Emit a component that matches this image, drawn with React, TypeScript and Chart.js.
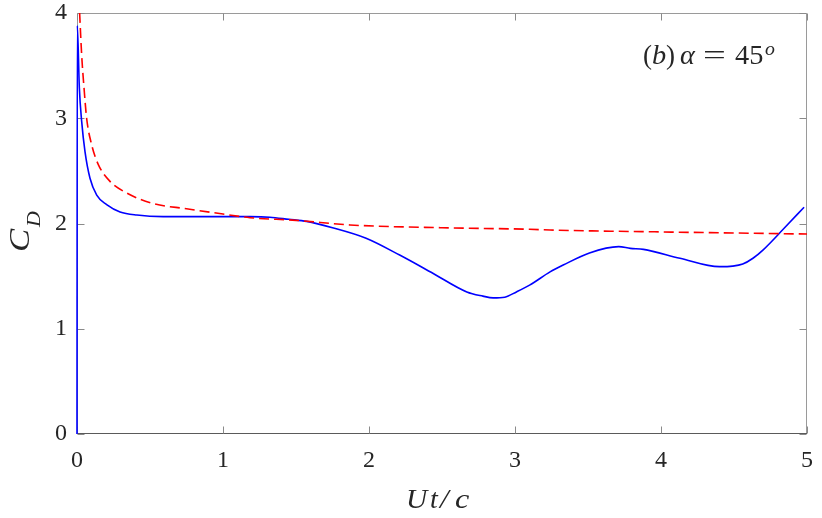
import { useEffect, useRef } from "react";
import { Chart, registerables } from "chart.js";

Chart.register(...registerables);

const X_TICKS = [0, 1, 2, 3, 4, 5];
const Y_TICKS = [0, 1, 2, 3, 4];

// simulation (solid blue)
const SIM_T = [
  0, 0.002, 0.016, 0.032, 0.055, 0.089, 0.135, 0.203, 0.295, 0.41, 0.59, 0.8, 1.0, 1.185, 1.32, 1.45,
  1.573, 1.75, 1.98, 2.21, 2.44, 2.67, 2.78, 2.85, 2.93, 3.01, 3.1, 3.24, 3.33, 3.51, 3.71, 3.79, 3.88,
  4.13, 4.4, 4.49, 4.56, 4.63, 4.7, 4.84, 4.98,
];
const SIM_CD = [
  0, 3.88, 3.29, 2.97, 2.68, 2.43, 2.27, 2.18, 2.11, 2.08, 2.065, 2.065, 2.065, 2.065, 2.06, 2.04,
  2.02, 1.96, 1.86, 1.7, 1.525, 1.35, 1.31, 1.293, 1.3, 1.35, 1.414, 1.54, 1.605, 1.72, 1.78, 1.764,
  1.754, 1.67, 1.59, 1.595, 1.615, 1.67, 1.75, 1.95, 2.155,
];

// model (dashed red)
const MODEL_T = [0.018, 0.032, 0.048, 0.066, 0.1, 0.146, 0.226, 0.34, 0.52, 0.75, 1.0, 1.185, 1.5, 1.87, 2.5, 3.1, 3.24, 4.0, 4.5, 5.0];
const MODEL_CD = [4.0, 3.6, 3.29, 3.0, 2.75, 2.56, 2.4, 2.29, 2.19, 2.14, 2.09, 2.055, 2.03, 1.986, 1.96, 1.945, 1.938, 1.92, 1.91, 1.9];

const SERIF = '"Liberation Serif", "DejaVu Serif", serif';
const INK = "#262626";

function put(ctx: CanvasRenderingContext2D, text: string, x: number, y: number, font: string, sx = 1) {
  ctx.font = font;
  ctx.save();
  ctx.translate(x, y);
  ctx.scale(sx, 1);
  ctx.fillText(text, 0, 0);
  ctx.restore();
}

const frame = {
  id: "frame",
  beforeDatasetsDraw(chart: any) {
    const { ctx, chartArea: a, scales } = chart;
    const L = Math.round(a.left) + 0.5;
    const R = Math.round(a.right) - 0.5;
    const T = Math.round(a.top) + 0.5;
    const B = Math.round(a.bottom) - 0.5;
    ctx.save();
    ctx.lineWidth = 1;
    ctx.strokeStyle = "#9a9a9a";
    ctx.beginPath();
    ctx.moveTo(L, B);
    ctx.lineTo(L, T);
    ctx.lineTo(R, T);
    ctx.lineTo(R, B);
    ctx.stroke();
    ctx.strokeStyle = "#5a5a5a";
    ctx.beginPath();
    ctx.moveTo(L - 0.5, B);
    ctx.lineTo(R + 0.5, B);
    ctx.stroke();

    // inward ticks on all four sides
    ctx.strokeStyle = "#8a8a8a";
    ctx.beginPath();
    for (const v of X_TICKS) {
      const px = Math.round(scales.x.getPixelForValue(v)) + 0.5;
      ctx.moveTo(px, B);
      ctx.lineTo(px, B - 7);
      ctx.moveTo(px, T);
      ctx.lineTo(px, T + 7);
    }
    for (const v of Y_TICKS) {
      const py = Math.round(scales.y.getPixelForValue(v)) + 0.5;
      ctx.moveTo(L, py);
      ctx.lineTo(L + 7, py);
      ctx.moveTo(R, py);
      ctx.lineTo(R - 7, py);
    }
    ctx.stroke();

    ctx.fillStyle = INK;
    ctx.textBaseline = "alphabetic";
    ctx.textAlign = "left";

    // x title
    const it = `italic 28px ${SERIF}`;
    put(ctx, "U", 406, 508, it, 1.05);
    put(ctx, "t", 430, 508, it);
    put(ctx, "/", 440, 508, it, 1.1);
    put(ctx, "c", 455, 508, it, 1.15);

    // y title C_D
    ctx.save();
    ctx.translate(29, 252);
    ctx.rotate(-Math.PI / 2);
    put(ctx, "C", 0, 0, `italic 29px ${SERIF}`, 1.2);
    put(ctx, "D", 25, 11, `italic 19px ${SERIF}`, 1.15);
    ctx.restore();

    // panel label
    const up = `27px ${SERIF}`;
    const ip = `italic 27px ${SERIF}`;
    put(ctx, "(", 643, 64, up);
    put(ctx, "b", 652, 64, ip, 1.05);
    put(ctx, ")", 666, 64, up);
    put(ctx, "\u03b1", 680, 64, ip, 1.05);
    put(ctx, "=", 703, 64, up, 1.5);
    put(ctx, "45", 735, 64, up, 1.05);
    put(ctx, "o", 765, 55, `italic 18px ${SERIF}`, 1.1);
    ctx.restore();
  },
};

export default function App() {
  const canvasRef = useRef<HTMLCanvasElement>(null);

  useEffect(() => {
    document.body.style.margin = "0";
    if (!canvasRef.current) return;
    const noPad = (s: any) => {
      s.paddingTop = 0;
      s.paddingBottom = 0;
      s.paddingLeft = 0;
      s.paddingRight = 0;
    };
    const chart = new Chart(canvasRef.current, {
      type: "line",
      data: {
        datasets: [
          {
            label: "model",
            data: MODEL_T.map((t, i) => ({ x: t, y: MODEL_CD[i] })),
            borderColor: "#ff0000",
            borderWidth: 1.6,
            borderDash: [10, 5],
            pointRadius: 0,
            cubicInterpolationMode: "monotone",
            fill: false,
          },
          {
            label: "simulation",
            data: SIM_T.map((t, i) => ({ x: t, y: SIM_CD[i] })),
            borderColor: "#0000ff",
            borderWidth: 1.6,
            pointRadius: 0,
            cubicInterpolationMode: "monotone",
            fill: false,
            clip: 3,
          },
        ],
      },
      options: {
        responsive: false,
        animation: false,
        layout: { padding: { top: 13, right: 15, left: 0, bottom: 0 } },
        plugins: { legend: { display: false }, tooltip: { enabled: false } },
        scales: {
          x: {
            type: "linear",
            min: 0,
            max: 5,
            grid: { display: false, drawTicks: false },
            border: { display: false },
            afterBuildTicks: (s: any) => {
              s.ticks = X_TICKS.map((v) => ({ value: v }));
            },
            afterFit: (s: any) => {
              s.height = 84;
              noPad(s);
            },
            ticks: { padding: 12, color: INK, font: { family: SERIF, size: 24 }, maxRotation: 0 },
          },
          y: {
            type: "linear",
            min: 0,
            max: 4,
            grid: { display: false, drawTicks: false },
            border: { display: false },
            afterBuildTicks: (s: any) => {
              s.ticks = Y_TICKS.map((v) => ({ value: v }));
            },
            afterFit: (s: any) => {
              s.width = 77;
              noPad(s);
            },
            ticks: { padding: 10, color: INK, font: { family: SERIF, size: 24 } },
          },
        },
      },
      plugins: [frame],
    });
    return () => chart.destroy();
  }, []);

  return <canvas ref={canvasRef} width={822} height={518} style={{ display: "block" }} />;
}
